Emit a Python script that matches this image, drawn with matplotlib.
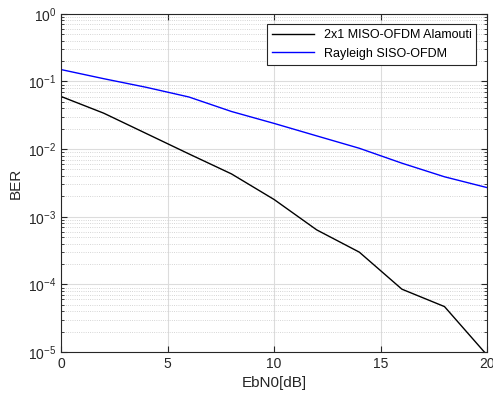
import numpy as np
import matplotlib
matplotlib.use("Agg")
import matplotlib.pyplot as plt
from matplotlib.ticker import LogLocator, NullFormatter

plt.rcParams['font.family'] = ['Liberation Sans', 'DejaVu Sans']

ebn0 = [0, 2, 4, 6, 8, 10, 12, 14, 16, 18, 20]
ber_alamouti = [0.060, 0.034, 0.017, 0.0085, 0.0043, 0.0018, 0.00064, 0.00030, 8.5e-5, 4.7e-5, 9e-6]
ber_siso = [0.150, 0.110, 0.082, 0.059, 0.036, 0.024, 0.0157, 0.0103, 0.0062, 0.0039, 0.0027]

fig = plt.figure(figsize=(4.93, 3.96), dpi=100)
ax = fig.add_axes([0.124, 0.111, 0.864, 0.854])

ax.semilogy(ebn0, ber_alamouti, color='black', lw=1.0, label='2x1 MISO-OFDM Alamouti')
ax.semilogy(ebn0, ber_siso, color='blue', lw=1.0, label='Rayleigh SISO-OFDM')

ax.set_xlim(0, 20)
ax.set_ylim(1e-5, 1)
ax.set_xticks([0, 5, 10, 15, 20])
ax.yaxis.set_major_locator(LogLocator(base=10, numticks=10))
ax.yaxis.set_minor_locator(LogLocator(base=10, subs=np.arange(2, 10), numticks=20))
ax.yaxis.set_minor_formatter(NullFormatter())

ax.grid(True, which='major', color='#dcdcdc', lw=0.8)
ax.grid(True, which='minor', axis='y', color='#c8c8c8', lw=0.6, ls=':')
ax.set_axisbelow(True)

ax.tick_params(which='both', direction='in', top=True, right=True, labelsize=10, colors='#262626')
ax.tick_params(which='major', length=4)
ax.tick_params(which='minor', length=2)
for s in ax.spines.values():
    s.set_color('#262626')
    s.set_linewidth(0.8)

ax.set_xlabel('EbN0[dB]', fontsize=11, color='#262626')
ax.set_ylabel('BER', fontsize=11, color='#262626')

leg = ax.legend(loc='upper right', fontsize=9, fancybox=False, edgecolor='#262626',
                framealpha=1, borderaxespad=0.85, handlelength=3.3)
leg.get_frame().set_linewidth(0.8)

fig.savefig('out.png', dpi=100)
